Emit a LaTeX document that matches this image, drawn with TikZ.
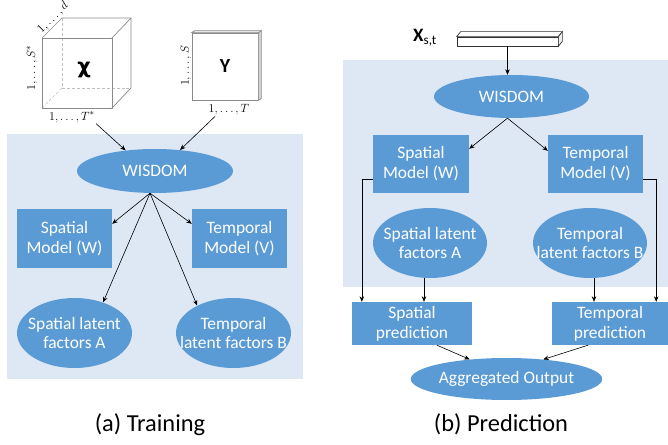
\documentclass[tikz,border=0pt]{standalone}
\usepackage{fontspec}
\setmainfont{Carlito}
\newfontfamily\dejavu{DejaVu Sans}
\usetikzlibrary{shapes.geometric,arrows.meta,calc}
\definecolor{nodeblue}{HTML}{5B9BD5}
\definecolor{panelbg}{HTML}{DEE8F4}
\definecolor{cubegray}{HTML}{8A8A8A}
\begin{document}
\begin{tikzpicture}[x=1bp,y=-1bp,
  nodefont/.style={font=\fontsize{17.5}{20}\selectfont},
  blueell/.style={ellipse,fill=nodeblue,text=white,inner sep=0pt,nodefont,align=center},
  ellipsetext/.style={label={[text=white,nodefont,align=center,inner sep=0pt]center:#1}},
  bluebox/.style={rectangle,fill=nodeblue,text=white,inner sep=0pt,nodefont,align=center},
  arr/.style={draw=black,line width=0.6bp,-{Stealth[length=5.5bp,width=4.5bp]}},
  cubeline/.style={draw=cubegray,line width=0.7bp},
  hiddenline/.style={draw=cubegray!55,line width=0.6bp,densely dashed},
  dimlabel/.style={font=\fontsize{13}{14}\selectfont,inner sep=1pt},
  captiontext/.style={font=\fontsize{24.5}{28}\selectfont,anchor=base}]
\useasboundingbox (0,0) rectangle (668,445);

% panels
\fill[panelbg] (7,134) rectangle (303,379);
\fill[panelbg] (343,60) rectangle (668,287);

% ---------- (a) Training ----------
% cube
\draw[hiddenline] (62,18) -- (62,88) -- (131,88);
\draw[hiddenline] (42,108) -- (62,88);
\draw[cubeline] (42,38) rectangle (112,108);
\draw[cubeline] (42,38) -- (62,18) -- (131,18) -- (131,88) -- (112,108);
\draw[cubeline] (112,38) -- (131,18);
\node[font=\dejavu\bfseries\fontsize{21}{21}\selectfont,inner sep=0pt] (chi) at (84,70) {χ};
\node[dimlabel,rotate=90] (lsstar) at (32,68) {$1,\ldots,S^*$};
\node[dimlabel,rotate=45] (ld) at (53,18) {$1,\ldots,d$};
\node[dimlabel] (ltstar) at (72,117) {$1,\ldots,T^*$};

% Y matrix
\node[draw=cubegray,line width=0.7bp,fill=white,minimum width=66bp,minimum height=67bp,inner sep=0pt,
      font=\bfseries\fontsize{20}{20}\selectfont] (ysq) at (225,66.5) {Y};
\draw[cubeline,fill=gray!35] (ysq.north east) -- ++(3,-2) -- ($(ysq.south east)+(3,-2)$) -- (ysq.south east) -- cycle;
\draw[cubeline,fill=gray!20] (ysq.north west) -- ++(3,-2) -- ($(ysq.north east)+(3,-2)$) -- (ysq.north east) -- cycle;
\node[dimlabel,rotate=90] (ls) at (186,66) {$1,\ldots,S$};
\node[dimlabel] (lt) at (229,110) {$1,\ldots,T$};

% nodes
\node[blueell,minimum width=156bp,minimum height=44bp] (lw) at (155,171) {WISDOM};
\node[bluebox,minimum width=95bp,minimum height=59bp] (lsm) at (64.5,238.5) {Spatial\\Model (W)};
\node[bluebox,minimum width=95bp,minimum height=59bp] (ltm) at (239.5,238.5) {Temporal\\Model (V)};
\node[blueell,minimum width=115bp,minimum height=70bp,ellipsetext={Spatial latent\\factors A}] (lsa) at (74.5,333) {};
\node[blueell,minimum width=115bp,minimum height=70bp,ellipsetext={Temporal\\latent factors B}] (lta) at (233.5,333) {};

% connectors
\draw[arr] (ltstar.south east) -- (lw.145);
\draw[arr] ([xshift=-14bp]lt.south) -- (lw.40);
\draw[arr] ([xshift=-5bp]lw.south) -- ([yshift=-15bp]lsm.north east);
\draw[arr] ([xshift=-5bp]lw.south) -- ([yshift=-15bp]ltm.north west);
\draw[arr] ([xshift=-5bp]lw.south) -- (lsa.47);
\draw[arr] ([xshift=-5bp]lw.south) -- (lta.143);

\node[captiontext] (capa) at (150,431) {(a) Training};

% ---------- (b) Prediction ----------
\node[draw=black!80,line width=0.7bp,fill=white,minimum width=101bp,minimum height=9bp,inner sep=0pt] (bar) at (507.5,41.5) {};
\draw[draw=black!80,line width=0.7bp,fill=white] (bar.north west) -- ++(4,-5) -- ($(bar.north east)+(4,-5)$) -- (bar.north east) -- cycle;
\draw[draw=black!80,line width=0.7bp,fill=gray!15] (bar.north east) -- ++(4,-5) -- ($(bar.south east)+(4,-5)$) -- (bar.south east) -- cycle;
\node[inner sep=0pt] (xst) at (425,38) {\fontsize{19}{20}\selectfont\textbf{X}\textsubscript{s,t}};

\node[blueell,minimum width=155bp,minimum height=43bp] (rw) at (511.5,96.5) {WISDOM};
\node[bluebox,minimum width=96bp,minimum height=58bp] (rsm) at (421,164) {Spatial\\Model (W)};
\node[bluebox,minimum width=95bp,minimum height=58bp] (rtm) at (595.5,164) {Temporal\\Model (V)};
\node[blueell,minimum width=114bp,minimum height=70bp,ellipsetext={Spatial latent\\factors A}] (rsa) at (430,243) {};
\node[blueell,minimum width=114bp,minimum height=70bp,ellipsetext={Temporal\\latent factors B}] (rta) at (590,243) {};
\node[bluebox,minimum width=120bp,minimum height=43bp] (rsp) at (412,323.5) {Spatial\\prediction};
\node[bluebox,minimum width=116bp,minimum height=43bp] (rtp) at (610,323.5) {Temporal\\prediction};
\node[blueell,minimum width=157bp,minimum height=42bp] (ao) at (506.5,379) {Aggregated Output};

\draw[arr] (bar.south) -- (bar.south |- rw.north);
\draw[arr] ([xshift=-4bp]rw.south) -- ([yshift=-14bp]rsm.north east);
\draw[arr] ([xshift=-4bp]rw.south) -- ([yshift=-16bp]rtm.north west);
\draw[arr] ([yshift=-15bp]rsm.west) -| ([xshift=10bp]rsp.north west);
\draw[arr] ([xshift=-6bp]rsa.south) -- ([xshift=-6bp]rsa.south |- rsp.north);
\draw[arr] ([xshift=4bp]rta.south) -- ([xshift=4bp]rta.south |- rtp.north);
\draw[arr] ([yshift=-15bp]rtm.east) -| ([xshift=-12bp]rtp.north east);
\draw[arr] ([xshift=25bp]rsp.south) -- (ao.152);
\draw[arr] ([xshift=-22bp]rtp.south) -- (ao.28);

\node[captiontext] (capb) at (501,431) {(b) Prediction};
\end{tikzpicture}
\end{document}
